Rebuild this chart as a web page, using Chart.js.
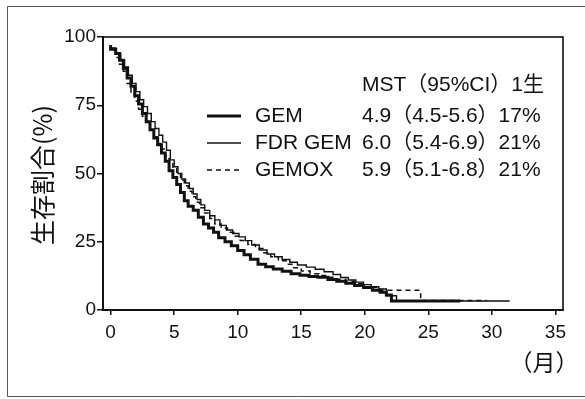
<!DOCTYPE html>
<html>
<head>
<meta charset="utf-8">
<script src="https://cdn.jsdelivr.net/npm/chart.js@4"></script>
<style>
  html, body { margin: 0; padding: 0; background: #fff; }
  #wrap { width: 585px; height: 399px; position: relative; }
</style>
</head>
<body>
<div id="wrap"><canvas id="c" width="585" height="399"></canvas></div>
<script>
// ---- data (months, survival %) ----
const gemT = [0,0.4,0.7,1.0,1.3,1.6,1.9,2.2,2.5,2.8,3.1,3.4,3.7,4.0,4.3,4.6,4.9,5.2,5.5,5.8,6.1,6.5,6.9,7.3,7.7,8.1,8.5,9.0,9.5,10.0,10.5,11.0,11.6,12.2,12.8,13.5,14.2,14.9,15.6,16.3,17.1,17.8,18.5,19.2,19.9,20.6,21.2,21.7,22.1,22.5,27.5];
const gemS = [97,95.5,94,91.5,88.5,85,82,78.5,75.5,72,69,66,63,60.5,57.5,54.5,51,48.5,46,43,40,38,36.5,34,31.5,30,28.5,26.5,25,23.5,21.8,20.2,18.6,16.8,15.8,15,14.2,13.3,12.7,12.3,12,11.2,10.5,9.8,9,8.2,7.2,6.5,5.5,3.3,3.3];

const fdrT = [0,0.4,0.8,1.1,1.4,1.7,2.0,2.3,2.6,2.9,3.2,3.5,3.8,4.1,4.4,4.7,5.0,5.3,5.6,5.9,6.2,6.5,6.8,7.1,7.4,7.8,8.2,8.6,9.1,9.6,10.1,10.6,11.1,11.7,12.3,12.9,13.5,14.1,14.7,15.4,16.1,16.8,17.5,18.1,18.7,19.3,19.9,20.5,21.1,21.7,22.5,27.5,31.4];
const fdrS = [97,96,94,91.5,89,86,83,80,77,74.5,72,69,66.5,64,61.5,58.5,55,52.5,50,48,46.5,44.5,42.5,40.5,38.5,36.5,34.5,33,31,29.3,28,26.8,25.4,23.8,22,20.5,19.5,18.5,17.5,16.5,15.7,14.9,14,13,11.9,11,10.2,9.3,8.5,7.7,5.2,3.3,3.3];

const gemoxT = [0,0.4,0.7,1.0,1.3,1.6,1.9,2.2,2.5,2.8,3.1,3.4,3.7,4.0,4.3,4.6,4.9,5.2,5.5,5.8,6.1,6.4,6.7,7.0,7.4,7.8,8.2,8.7,9.2,9.7,10.2,10.8,11.4,12.0,12.6,13.2,13.8,14.4,15.0,15.7,16.4,17.1,17.8,18.5,19.2,19.9,20.6,21.2,24.4,29.1,29.6];
const gemoxS = [97,95,92.5,90,87.5,83,79,76.5,73.5,71,68.5,66,63.5,61,59,56.5,54,52,50,47.5,45.5,43.5,41.5,39.5,37.5,35.5,33.5,31.5,30,28.5,27,25.5,24,22.5,21,19.5,18,16.8,15.5,14.3,13.3,12.6,12,11.3,10.5,9.6,8.5,8.2,7.2,3.5,3.5];

const seriesNames = ['GEM', 'FDR GEM', 'GEMOX'];
const mstLabels = ['4.9（4.5-5.6）17%', '6.0（5.4-6.9）21%', '5.9（5.1-6.8）21%'];
const headerLabel = 'MST（95%CI）1生';
const xTicks = [0, 5, 10, 15, 20, 25, 30, 35];
const yTicks = [0, 25, 50, 75, 100];
const yTitle = '生存割合(%)';
const xTitle = '（月）';

const toPts = (t, s) => t.map((v, i) => ({ x: v, y: s[i] }));

const INK = '#111';
const LAT = '"Liberation Sans", Arial, "Noto Sans CJK JP", sans-serif';
const CJK = '"Noto Sans CJK JP", "Liberation Sans", sans-serif';

const decor = {
  id: 'decor',
  afterDraw(chart) {
    const ctx = chart.ctx;
    const a = chart.chartArea;
    ctx.save();
    // plot box
    ctx.strokeStyle = INK;
    ctx.lineWidth = 1.6;
    ctx.strokeRect(a.left, a.top, a.right - a.left, a.bottom - a.top);
    // outer frame
    ctx.strokeStyle = '#555';
    ctx.lineWidth = 1;
    ctx.beginPath();
    ctx.moveTo(585, 6.5); ctx.lineTo(7.5, 6.5); ctx.lineTo(7.5, 396.5); ctx.lineTo(585, 396.5);
    ctx.stroke();

    // y title
    ctx.fillStyle = INK;
    ctx.save();
    ctx.translate(42, 175);
    ctx.rotate(-Math.PI / 2);
    ctx.font = '25px ' + CJK;
    ctx.textAlign = 'center';
    ctx.textBaseline = 'middle';
    ctx.fillText(yTitle, 0, 0);
    ctx.restore();

    // x title
    ctx.font = '23px ' + CJK;
    ctx.textAlign = 'center';
    ctx.textBaseline = 'middle';
    ctx.fillText(xTitle, 544, 362);

    // legend block
    ctx.textAlign = 'left';
    ctx.textBaseline = 'middle';
    ctx.font = '21px ' + LAT;
    ctx.fillText(headerLabel, 362, 85);
    const rowsY = [116, 143, 170];
    const widths = [3, 1.5, 1.5];
    const dashes = [[], [], [5, 4]];
    rowsY.forEach((y, i) => {
      ctx.beginPath();
      ctx.lineWidth = widths[i];
      ctx.setLineDash(dashes[i]);
      ctx.strokeStyle = INK;
      ctx.moveTo(207, y); ctx.lineTo(241, y);
      ctx.stroke();
      ctx.setLineDash([]);
      ctx.fillText(seriesNames[i], 255, y);
      ctx.fillText(mstLabels[i], 362, y);
    });
    ctx.restore();
  }
};

const common = { pointRadius: 0, borderColor: INK, stepped: 'after', fill: false, showLine: true };

new Chart(document.getElementById('c'), {
  type: 'scatter',
  data: {
    datasets: [
      Object.assign({ label: seriesNames[0], data: toPts(gemT, gemS), borderWidth: 3 }, common),
      Object.assign({ label: seriesNames[1], data: toPts(fdrT, fdrS), borderWidth: 1.4 }, common),
      Object.assign({ label: seriesNames[2], data: toPts(gemoxT, gemoxS), borderWidth: 1.5, borderDash: [5, 4] }, common)
    ]
  },
  options: {
    responsive: false,
    animation: false,
    layout: { padding: { top: 37, right: 22, left: 0, bottom: 0 } },
    plugins: { legend: { display: false }, tooltip: { enabled: false } },
    scales: {
      x: {
        type: 'linear', min: -0.6, max: 35.6,
        afterBuildTicks: (s) => { s.ticks = xTicks.map(v => ({ value: v })); },
        afterFit: (s) => { s.height = 89; },
        grid: { drawOnChartArea: false, drawTicks: true, tickLength: 5, color: INK, lineWidth: 1.5 },
        border: { display: true, color: INK, width: 2 },
        ticks: { color: INK, font: { size: 19, family: LAT }, padding: 6, maxRotation: 0 }
      },
      y: {
        type: 'linear', min: 0, max: 100,
        afterBuildTicks: (s) => { s.ticks = yTicks.map(v => ({ value: v })); },
        afterFit: (s) => { s.width = 103; },
        grid: { drawOnChartArea: false, drawTicks: true, tickLength: 6, color: INK, lineWidth: 1.5 },
        border: { display: true, color: INK, width: 2 },
        ticks: { color: INK, font: { size: 19, family: LAT }, padding: 1 }
      }
    }
  },
  plugins: [decor]
});
</script>
</body>
</html>
